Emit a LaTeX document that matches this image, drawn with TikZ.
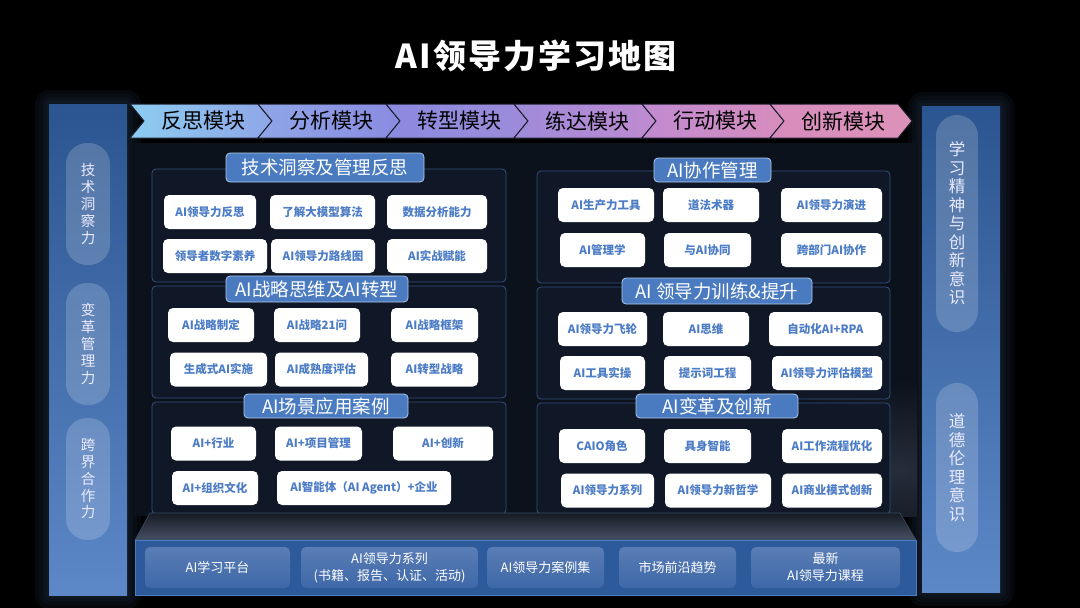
\documentclass[tikz,border=0pt]{standalone}
\usepackage{fontspec}
\setmainfont{Noto Sans CJK SC}
\definecolor{halo}{HTML}{1A2638}
\definecolor{panelbg}{HTML}{0C121C}
\definecolor{panelglow}{HTML}{252D3A}
\definecolor{framefill}{HTML}{101827}
\definecolor{frameline}{HTML}{34507C}
\definecolor{coltop}{HTML}{2B5590}
\definecolor{colbot}{HTML}{5C88C8}
\definecolor{hdrfill}{HTML}{4A7BC1}
\definecolor{hdrline}{HTML}{B0C8EA}
\definecolor{itemtxt}{HTML}{4C7CC5}
\definecolor{band}{HTML}{2D5A9A}
\definecolor{bandline}{HTML}{4B7DC4}
\definecolor{bbtop}{HTML}{5A7DB5}
\definecolor{bbbot}{HTML}{3D68A8}
\definecolor{chevline}{HTML}{1E2030}
\definecolor{plattop}{HTML}{161B24}
\definecolor{platbot}{HTML}{465064}
\definecolor{platline}{HTML}{3A4A60}
\definecolor{ca}{HTML}{8CCDF1}
\definecolor{cb}{HTML}{8FA6E8}
\definecolor{cc}{HTML}{8A8BE0}
\definecolor{cd}{HTML}{9E8BDA}
\definecolor{ce}{HTML}{C08BD1}
\definecolor{cf}{HTML}{D78CBE}
\definecolor{cg}{HTML}{DC92B8}
\begin{document}
\begin{tikzpicture}[x=1pt,y=-1pt,
  colbox/.style={top color=coltop,bottom color=colbot,draw=none},
  pill/.style={fill=white,fill opacity=0.18,text opacity=1,text=white!92!blue,rounded corners=21pt,inner sep=0pt,align=center},
  lpill/.style={pill,minimum width=44pt,minimum height=122pt,font=\fontsize{14.5}{16.8}\selectfont},
  rpill/.style={pill,minimum width=42pt,font=\fontsize{16.5}{18.5}\selectfont},
  frame/.style={draw=frameline,line width=0.8pt,fill=framefill,rounded corners=4pt},
  hdr/.style={fill=hdrfill,draw=hdrline,line width=0.8pt,rounded corners=4pt,text=white,inner sep=0pt,font=\fontsize{18.5}{20}\selectfont},
  item/.style={fill=white,rounded corners=5pt,text=itemtxt,inner sep=0pt,minimum height=34pt,font=\bfseries\fontsize{11.5}{13}\selectfont},
  bbox/.style={top color=bbtop,bottom color=bbbot,rounded corners=5pt,text=white,inner sep=0pt,minimum height=41pt,align=center,font=\fontsize{13}{17}\selectfont},
  chevtxt/.style={text=black,font=\fontsize{21}{24}\selectfont,inner sep=0pt},
  glow/.style={fill=halo,opacity=0.22}
]
\useasboundingbox (0,0) rectangle (1080,608);
\fill[black] (0,0) rectangle (1080,608);
% soft halos round the side columns
\foreach \d in {14,10,6,3}{
  \fill[glow,rounded corners=\d pt] (49-\d,104-\d) rectangle (127+\d,595+\d);
  \fill[glow,rounded corners=\d pt] (922-\d,106-\d) rectangle (1000+\d,592+\d);
}
% main panel
\fill[panelbg] (134,143) rectangle (917,516);
\begin{scope}
\clip (134,143) rectangle (917,516);
\shade[inner color=panelglow,outer color=panelbg] (900,470) ellipse (170pt and 90pt);
\end{scope}

% title
\node[text=white,font={\fontsize{33}{36}\selectfont\bfseries\addfontfeature{LetterSpace=6}}] (title) at (536,56) {AI领导力学习地图};

% chevrons
\foreach \i/\cl/\cr/\t in {0/ca/cb/反思模块,1/cb/cc/分析模块,2/cc/cd/转型模块,3/cd/ce/练达模块,4/ce/cf/行动模块,5/cf/cg/创新模块}{
  \pgfmathsetmacro\xa{130+128*\i}
  \shadedraw[left color=\cl,right color=\cr,draw=chevline,line width=1pt]
    (\xa,104) -- (\xa+128,104) -- (\xa+142,121) -- (\xa+128,138) -- (\xa,138) -- (\xa+14,121) -- cycle;
  \node[chevtxt] (chev\i) at (\xa+73,121) {\t};
}

% side columns
\fill[colbox] (49,104) rectangle (127,595);
\fill[colbox] (922,106) rectangle (1000,592);
\node[lpill] (lp1) at (88,204) {技\\术\\洞\\察\\力};
\node[lpill] (lp2) at (88,344) {变\\革\\管\\理\\力};
\node[lpill] (lp3) at (88,479) {跨\\界\\合\\作\\力};
\node[rpill,minimum height=217pt] (rp1) at (957,223.5) {学\\习\\精\\神\\与\\创\\新\\意\\识};
\node[rpill,minimum height=169pt] (rp2) at (957,467.5) {道\\德\\伦\\理\\意\\识};

% frames
\draw[frame] (152,169) rectangle (506,282);
\draw[frame] (152,286) rectangle (506,398);
\draw[frame] (152,402) rectangle (506,514);
\draw[frame] (537,171) rectangle (890,283);
\draw[frame] (537,287) rectangle (890,399);
\draw[frame] (537,403) rectangle (890,514);

% headers
\node[hdr,minimum width=198pt,minimum height=29pt] (h1) at (325,167.5) {技术洞察及管理反思};
\node[hdr,minimum width=182pt,minimum height=26pt] (h2) at (317,289) {AI战略思维及AI转型};
\node[hdr,minimum width=164pt,minimum height=24pt] (h3) at (326,406) {AI场景应用案例};
\node[hdr,minimum width=117pt,minimum height=24pt] (h4) at (712.5,170) {AI协作管理};
\node[hdr,minimum width=190pt,minimum height=26pt] (h5) at (717,291) {AI 领导力训练\&提升};
\node[hdr,minimum width=162pt,minimum height=24pt] (h6) at (717,406) {AI变革及创新};

% left items
\node[item,minimum width=92pt] (a1) at (210,212) {AI领导力反思};
\node[item,minimum width=105pt] (a2) at (322.5,212) {了解大模型算法};
\node[item,minimum width=100pt] (a3) at (437,212) {数据分析能力};
\node[item,minimum width=104pt] (a4) at (215,256) {领导者数字素养};
\node[item,minimum width=104pt] (a5) at (323,256) {AI领导力路线图};
\node[item,minimum width=100pt] (a6) at (437,256) {AI实战赋能};

\node[item,minimum width=86pt] (b1) at (211,325) {AI战略制定};
\node[item,minimum width=86pt] (b2) at (317,325) {AI战略21问};
\node[item,minimum width=87pt] (b3) at (434.5,325) {AI战略框架};
\node[item,minimum width=97pt] (b4) at (218.5,369.5) {生成式AI实施};
\node[item,minimum width=93pt] (b5) at (321.5,369.5) {AI成熟度评估};
\node[item,minimum width=87pt] (b6) at (434.5,369.5) {AI转型战略};

\node[item,minimum width=85pt] (c1) at (213.5,443.5) {AI+行业};
\node[item,minimum width=87pt] (c2) at (318.5,443.5) {AI+项目管理};
\node[item,minimum width=100pt] (c3) at (443,443.5) {AI+创新};
\node[item,minimum width=86pt] (c4) at (215,488) {AI+组织文化};
\node[item,minimum width=174pt] (c5) at (364,488) {AI智能体（AI Agent）+企业};

% right items
\node[item,minimum width=96pt] (d1) at (606,205) {AI生产力工具};
\node[item,minimum width=96pt] (d2) at (711,205) {道法术器};
\node[item,minimum width=101pt] (d3) at (831.5,205) {AI领导力演进};
\node[item,minimum width=85pt] (d4) at (602.5,250) {AI管理学};
\node[item,minimum width=87pt] (d5) at (707.5,250) {与AI协同};
\node[item,minimum width=101pt] (d6) at (831.5,250) {跨部门AI协作};

\node[item,minimum width=89pt] (e1) at (602.5,329) {AI领导力飞轮};
\node[item,minimum width=86pt] (e2) at (706,329) {AI思维};
\node[item,minimum width=113pt] (e3) at (825.5,329) {自动化AI+RPA};
\node[item,minimum width=85pt] (e4) at (602.5,373) {AI工具实操};
\node[item,minimum width=87pt] (e5) at (707.5,373) {提示词工程};
\node[item,minimum width=110pt] (e6) at (827,373) {AI领导力评估模型};

\node[item,minimum width=86pt] (f1) at (602,446) {CAIO角色};
\node[item,minimum width=87pt] (f2) at (707.5,446) {具身智能};
\node[item,minimum width=100pt] (f3) at (832,446) {AI工作流程优化};
\node[item,minimum width=93pt] (f4) at (607.5,490.5) {AI领导力系列};
\node[item,minimum width=106pt] (f5) at (718,490.5) {AI领导力新哲学};
\node[item,minimum width=100pt] (f6) at (832,490.5) {AI商业模式创新};

% platform
\shadedraw[top color=plattop,bottom color=platbot,draw=platline,line width=0.6pt]
  (150,513) -- (900,513) -- (916,540) -- (135,540) -- cycle;
\filldraw[fill=band,draw=bandline,line width=1pt] (135,540) rectangle (916,595);
\node[bbox,minimum width=145pt] (g1) at (217.5,567.5) {AI学习平台};
\node[bbox,minimum width=177pt] (g2) at (389.5,567.5) {AI领导力系列\\(书籍、报告、认证、活动)};
\node[bbox,minimum width=117pt] (g3) at (545.5,567.5) {AI领导力案例集};
\node[bbox,minimum width=117pt] (g4) at (677.5,567.5) {市场前沿趋势};
\node[bbox,minimum width=149pt] (g5) at (825.5,567.5) {最新\\AI领导力课程};
\end{tikzpicture}
\end{document}
